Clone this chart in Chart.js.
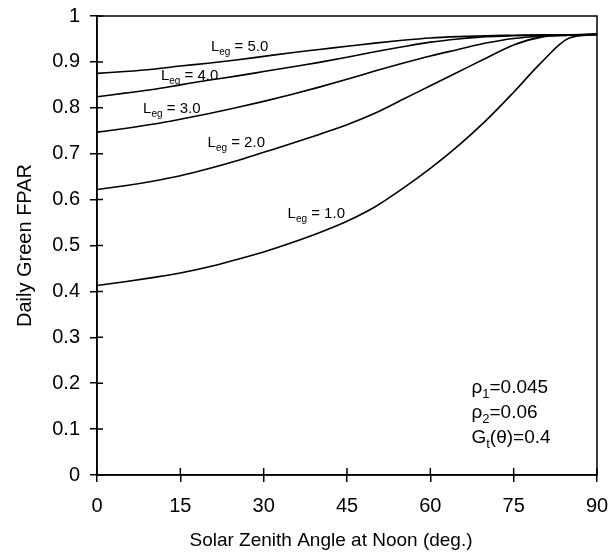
<!DOCTYPE html>
<html>
<head>
<meta charset="utf-8">
<script src="https://cdn.jsdelivr.net/npm/chart.js@4.4.1/dist/chart.umd.min.js"></script>
<style>
  html, body { margin: 0; padding: 0; background: #fff; }
</style>
</head>
<body>
<canvas id="fparChart" width="608" height="554"></canvas>
<script>
// solar zenith angle at noon (deg.)
const angles = [0, 5, 10, 15, 20, 25, 30, 35, 40, 45, 50, 55, 60, 65, 70, 75, 80, 85, 90];

// daily green FPAR, one list per green leaf area index
const fparL1 = [0.413, 0.421, 0.430, 0.440, 0.453, 0.469, 0.486, 0.506, 0.528, 0.553, 0.584, 0.624, 0.668, 0.717, 0.772, 0.834, 0.899, 0.952, 0.960];
const fparL2 = [0.622, 0.630, 0.640, 0.652, 0.667, 0.684, 0.703, 0.722, 0.742, 0.763, 0.788, 0.818, 0.848, 0.878, 0.908, 0.937, 0.954, 0.958, 0.960];
const fparL3 = [0.747, 0.755, 0.764, 0.775, 0.787, 0.800, 0.814, 0.829, 0.845, 0.862, 0.880, 0.897, 0.913, 0.927, 0.941, 0.951, 0.956, 0.958, 0.960];
const fparL4 = [0.824, 0.832, 0.840, 0.850, 0.860, 0.869, 0.879, 0.889, 0.899, 0.910, 0.922, 0.933, 0.943, 0.950, 0.955, 0.957, 0.958, 0.959, 0.960];
const fparL5 = [0.875, 0.879, 0.884, 0.891, 0.897, 0.904, 0.912, 0.920, 0.927, 0.934, 0.941, 0.947, 0.952, 0.955, 0.957, 0.958, 0.959, 0.959, 0.960];

const laiValues = ["1.0", "2.0", "3.0", "4.0", "5.0"];
const xTicks = [0, 15, 30, 45, 60, 75, 90];
const yTicks = [0, 0.1, 0.2, 0.3, 0.4, 0.5, 0.6, 0.7, 0.8, 0.9, 1];
const paramLines = [["ρ", "1", "=0.045"], ["ρ", "2", "=0.06"], ["G", "t", "(θ)=0.4"]];

// where the curve labels sit, in data units (angle, fpar)
const labelAt = {
    "1.0": [34.3, 0.559],
    "2.0": [19.9, 0.715],
    "3.0": [8.3, 0.788],
    "4.0": [11.5, 0.861],
    "5.0": [20.5, 0.924]
};
const paramAt = [67.4, 0.179];

const FONT = '"Liberation Sans", Arial, Helvetica, sans-serif';
const PLOT = { left: 97, right: 597, top: 16, bottom: 475 };

function toPoints(vals) {
    return angles.map((a, i) => ({ x: a, y: vals[i] }));
}

const series = [fparL1, fparL2, fparL3, fparL4, fparL5];

// text with a subscript part: main, sub, rest
function subText(ctx, x, y, main, sub, rest, size, subSize) {
    ctx.font = `${size}px ${FONT}`;
    ctx.fillText(main, x, y);
    x += ctx.measureText(main).width;
    ctx.font = `${subSize}px ${FONT}`;
    ctx.fillText(sub, x, y + size * 0.25);
    x += ctx.measureText(sub).width;
    ctx.font = `${size}px ${FONT}`;
    ctx.fillText(rest, x, y);
}

const decorations = {
    id: "decorations",
    afterDraw(chart) {
        const { ctx, chartArea, scales } = chart;
        const xs = scales.x, ys = scales.y;
        ctx.save();
        ctx.strokeStyle = "#000";
        ctx.lineWidth = 1.5;

        // frame
        ctx.strokeRect(chartArea.left, chartArea.top,
            chartArea.right - chartArea.left, chartArea.bottom - chartArea.top);

        // inner half of the crossing ticks
        ctx.beginPath();
        xTicks.forEach(v => {
            const px = xs.getPixelForValue(v);
            ctx.moveTo(px, chartArea.bottom);
            ctx.lineTo(px, chartArea.bottom - 7);
        });
        yTicks.forEach(v => {
            const py = ys.getPixelForValue(v);
            ctx.moveTo(chartArea.left, py);
            ctx.lineTo(chartArea.left + 6, py);
        });
        ctx.stroke();

        ctx.fillStyle = "#000";
        ctx.textBaseline = "alphabetic";
        ctx.textAlign = "left";

        // curve labels
        laiValues.forEach(v => {
            const [a, f] = labelAt[v];
            subText(ctx, xs.getPixelForValue(a), ys.getPixelForValue(f),
                "L", "eg", " = " + v, 15, 10);
        });

        // parameters
        paramLines.forEach((p, i) => {
            const x = xs.getPixelForValue(paramAt[0]);
            const y = ys.getPixelForValue(paramAt[1]) + i * 25;
            subText(ctx, x, y, p[0], p[1], p[2], 19, 13);
        });

        // axis titles
        ctx.font = `19px ${FONT}`;
        ctx.textAlign = "center";
        ctx.textBaseline = "middle";
        ctx.fillText("Solar Zenith Angle at Noon (deg.)", 331, 541);
        ctx.font = `20px ${FONT}`;
        ctx.translate(25, (chartArea.top + chartArea.bottom) / 2);
        ctx.rotate(-Math.PI / 2);
        ctx.fillText("Daily Green FPAR", 0, 0);
        ctx.restore();
    }
};

const ctx = document.getElementById("fparChart").getContext("2d");
new Chart(ctx, {
    type: "line",
    data: {
        datasets: series.map((vals, i) => ({
            label: "Leg = " + laiValues[i],
            data: toPoints(vals),
            borderColor: "#000",
            borderWidth: 1.6,
            pointRadius: 0,
            fill: false,
            cubicInterpolationMode: "monotone"
        }))
    },
    options: {
        responsive: false,
        animation: false,
        layout: { padding: { top: PLOT.top, right: 608 - PLOT.right, left: 0, bottom: 0 } },
        plugins: {
            legend: { display: false },
            tooltip: { enabled: false }
        },
        scales: {
            x: {
                type: "linear",
                min: 0,
                max: 90,
                afterBuildTicks: s => { s.ticks = xTicks.map(v => ({ value: v })); },
                afterFit: s => {
                    s.height = 554 - PLOT.bottom;
                    s.paddingLeft = 0;
                    s.paddingRight = 0;
                },
                border: { display: true, color: "#000", width: 1.5 },
                grid: { drawOnChartArea: false, color: "#000", lineWidth: 1.5, tickLength: 7 },
                ticks: { color: "#000", padding: 12, maxRotation: 0, font: { family: FONT, size: 20 } }
            },
            y: {
                type: "linear",
                min: 0,
                max: 1,
                afterBuildTicks: s => { s.ticks = yTicks.map(v => ({ value: v })); },
                afterFit: s => {
                    s.width = PLOT.left;
                    s.paddingTop = 0;
                    s.paddingBottom = 0;
                },
                border: { display: true, color: "#000", width: 1.5 },
                grid: { drawOnChartArea: false, color: "#000", lineWidth: 1.5, tickLength: 7 },
                ticks: {
                    color: "#000",
                    padding: 10,
                    font: { family: FONT, size: 20 },
                    callback: v => String(Math.round(v * 10) / 10)
                }
            }
        }
    },
    plugins: [decorations]
});
</script>
</body>
</html>
